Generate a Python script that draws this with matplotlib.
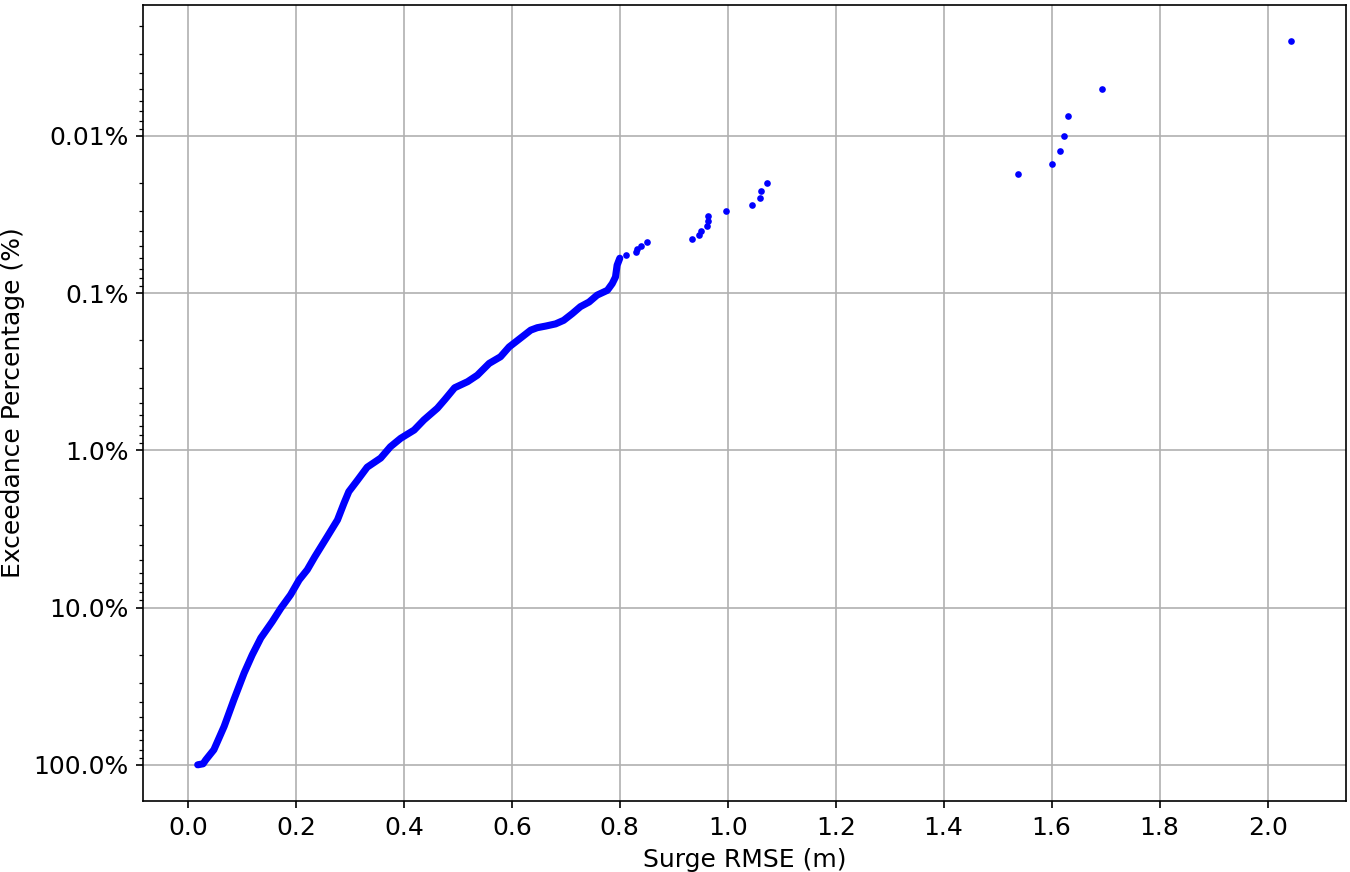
import matplotlib
matplotlib.use('Agg')
from matplotlib import pyplot as plt

# dense part of the exceedance curve
curve_rmse = [0.018, 0.028, 0.033, 0.048, 0.067, 0.085, 0.104, 0.119, 0.135,
              0.156, 0.172, 0.190, 0.206, 0.221, 0.235, 0.258, 0.277, 0.289,
              0.298, 0.314, 0.332, 0.357, 0.375, 0.394, 0.419, 0.437, 0.462,
              0.476, 0.494, 0.518, 0.536, 0.558, 0.579, 0.595, 0.613, 0.635,
              0.647, 0.663, 0.681, 0.696, 0.712, 0.727, 0.743, 0.758, 0.777,
              0.786, 0.792, 0.795, 0.800]
curve_exceed = [100.0, 98.5, 93.0, 80.2, 57.0, 38.6, 26.1, 20.0, 15.6,
                12.3, 10.1, 8.30, 6.67, 5.75, 4.75, 3.54, 2.77, 2.17,
                1.83, 1.55, 1.28, 1.12, 0.949, 0.839, 0.743, 0.641, 0.540,
                0.475, 0.400, 0.366, 0.333, 0.280, 0.254, 0.220, 0.197, 0.172,
                0.166, 0.162, 0.157, 0.149, 0.135, 0.122, 0.114, 0.103, 0.096,
                0.087, 0.079, 0.0665, 0.060]

# the largest events, plotted as single dots
tail_rmse = [2.044, 1.693, 1.630, 1.622, 1.615, 1.600, 1.537, 1.073, 1.061,
             1.060, 1.045, 0.996, 0.964, 0.963, 0.961, 0.950, 0.947, 0.934,
             0.850, 0.840, 0.832, 0.830, 0.812]
tail_exceed = [0.0025, 0.005, 0.0075, 0.01, 0.0125, 0.015, 0.0175, 0.02, 0.0225,
               0.025, 0.0275, 0.03, 0.0325, 0.035, 0.0375, 0.04, 0.0425, 0.045,
               0.0475, 0.05, 0.0525, 0.055, 0.0575]

ytick_vals = [0.01, 0.1, 1.0, 10.0, 100.0]
ytick_labels = ['0.01%', '0.1%', '1.0%', '10.0%', '100.0%']
xtick_vals = [0.0, 0.2, 0.4, 0.6, 0.8, 1.0, 1.2, 1.4, 1.6, 1.8, 2.0]

plt.rcParams['font.size'] = 12

fig = plt.figure(figsize=(9, 872 / 150), dpi=150)
ax = fig.add_axes([143 / 1350, 71 / 872, 1203 / 1350, 796 / 872])

ax.plot(curve_rmse, curve_exceed, color='#0000ff', lw=3.4,
        solid_capstyle='round', solid_joinstyle='round')
ax.plot(tail_rmse, tail_exceed, 'o', color='#0000ff', ms=3.2, mew=0)

ax.set_yscale('log')
ax.invert_yaxis()
ax.set_yticks(ytick_vals)
ax.set_yticklabels(ytick_labels)
ax.set_xticks(xtick_vals)
ax.grid(True)

ax.set_xlabel('Surge RMSE (m)')
ax.set_ylabel('Exceedance Percentage (%)')

fig.savefig('out.png', dpi=150)
